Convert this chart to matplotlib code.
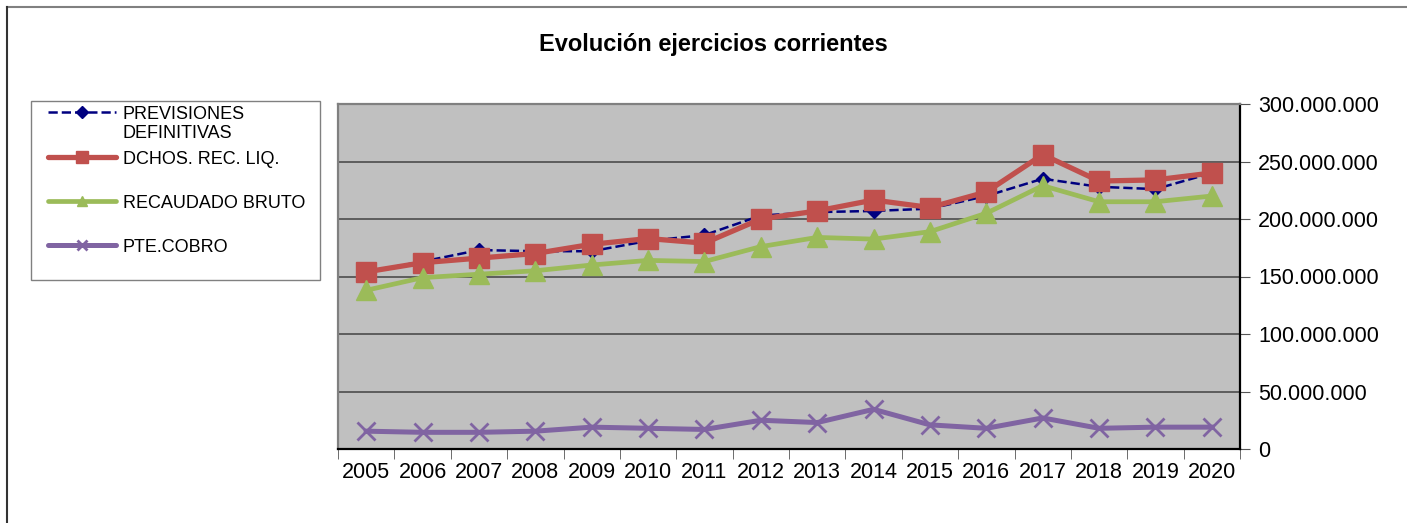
import matplotlib
matplotlib.use("Agg")
import matplotlib.pyplot as plt
from matplotlib.lines import Line2D
from matplotlib.patches import Rectangle
from matplotlib.ticker import FuncFormatter, FixedLocator

plt.rcParams['font.family'] = ['Liberation Sans', 'DejaVu Sans']

years = ["2005", "2006", "2007", "2008", "2009", "2010", "2011", "2012",
         "2013", "2014", "2015", "2016", "2017", "2018", "2019", "2020"]
previsiones = [154, 163, 173, 172, 172, 181, 186, 203, 206, 207, 209, 220, 235, 228, 226, 240]
dchos = [154, 162, 166, 170, 178, 183, 179, 200, 207, 216.5, 210, 223.5, 256, 233, 234, 240]
recaudado = [138, 149, 152, 155, 160, 164, 163, 176, 184, 182.5, 189, 205, 229, 215, 215, 220]
pte_cobro = [15.5, 14.5, 14.5, 15.5, 19, 18, 17, 25, 23, 34.5, 21, 18, 27, 18, 19, 19]
labels = ["PREVISIONES\nDEFINITIVAS", "DCHOS. REC. LIQ.", "RECAUDADO BRUTO", "PTE.COBRO"]
scale = 1e6

W, H = 1407, 523
fig = plt.figure(figsize=(W / 100, H / 100), dpi=100)

def fx(px):
    return px / W

def fy(py):
    return 1 - py / H

# outer chart-area border (top and left visible)
fig.add_artist(Line2D([fx(7), 1], [fy(7), fy(7)], transform=fig.transFigure, color='#808080', linewidth=1.5))
fig.add_artist(Line2D([fx(7), fx(7)], [fy(7), 0], transform=fig.transFigure, color='#333333', linewidth=1.5))

ax = fig.add_axes([fx(338), fy(449), (1240 - 338) / W, (449 - 104) / H])
ax.set_facecolor('#C0C0C0')
x = list(range(len(years)))

styles = [
    dict(color='#000080', linestyle='--', linewidth=1.8, marker='D', markersize=7, zorder=2),
    dict(color='#C0504D', linestyle='-', linewidth=3.8, marker='s', markersize=14.5, zorder=3),
    dict(color='#9BBB59', linestyle='-', linewidth=3.4, marker='^', markersize=15, zorder=3),
    dict(color='#8064A2', linestyle='-', linewidth=3.6, marker='x', markersize=13, markeredgewidth=2, zorder=3),
]
series = [previsiones, dchos, recaudado, pte_cobro]
for vals, st, lab in zip(series, styles, labels):
    ax.plot(x, [v * scale for v in vals], label=lab, **st)

ax.set_xlim(-0.5, len(years) - 0.5)
ax.set_ylim(0, 300e6)
ax.set_yticks([0, 50e6, 100e6, 150e6, 200e6, 250e6, 300e6])
ax.yaxis.set_major_formatter(FuncFormatter(lambda v, p: f"{int(v):,}".replace(",", ".")))
ax.yaxis.tick_right()
ax.tick_params(axis='y', direction='out', length=7, labelsize=15.5, color='#555555', pad=6)
ax.grid(axis='y', color='#555555', linewidth=1.3)
ax.set_axisbelow(True)

ax.set_xticks(x)
ax.set_xticklabels(years)
ax.tick_params(axis='x', which='major', length=0, labelsize=15.5, pad=9)
ax.xaxis.set_minor_locator(FixedLocator([i - 0.5 for i in range(len(years) + 1)]))
ax.tick_params(axis='x', which='minor', direction='out', length=7, color='#555555')

for s in ['top', 'left']:
    ax.spines[s].set_color('#808080')
    ax.spines[s].set_linewidth(1.6)
for s in ['bottom', 'right']:
    ax.spines[s].set_color('black')
    ax.spines[s].set_linewidth(1.6)

fig.text(fx(713), fy(44), 'Evolución ejercicios corrientes', ha='center', va='center',
         fontsize=17, fontweight='bold')

# legend box drawn manually to match layout
fig.add_artist(Rectangle((fx(31), fy(280)), (320 - 31) / W, (280 - 101) / H, transform=fig.transFigure,
                         fill=False, edgecolor='#808080', linewidth=1))
row_y = [112, 157, 201, 245]
leg_marker_sizes = [6, 9, 7, 7]
for st, lab, ry, ms in zip(styles, labels, row_y, leg_marker_sizes):
    s2 = dict(st)
    s2['markersize'] = ms
    s2.pop('zorder')
    if st['linestyle'] == '-':
        s2['solid_capstyle'] = 'round'
    fig.add_artist(Line2D([fx(48), fx(116)], [fy(ry), fy(ry)], transform=fig.transFigure,
                          markevery=[], **s2))
    fig.add_artist(Line2D([fx(82)], [fy(ry)], transform=fig.transFigure,
                          linestyle='none', marker=st['marker'], markersize=ms, color=st['color'],
                          markeredgewidth=st.get('markeredgewidth', 1)))
    fig.text(fx(123), fy(ry - 6), lab, ha='left', va='top', fontsize=13, linespacing=1.12)

fig.savefig('out.png', dpi=100)
